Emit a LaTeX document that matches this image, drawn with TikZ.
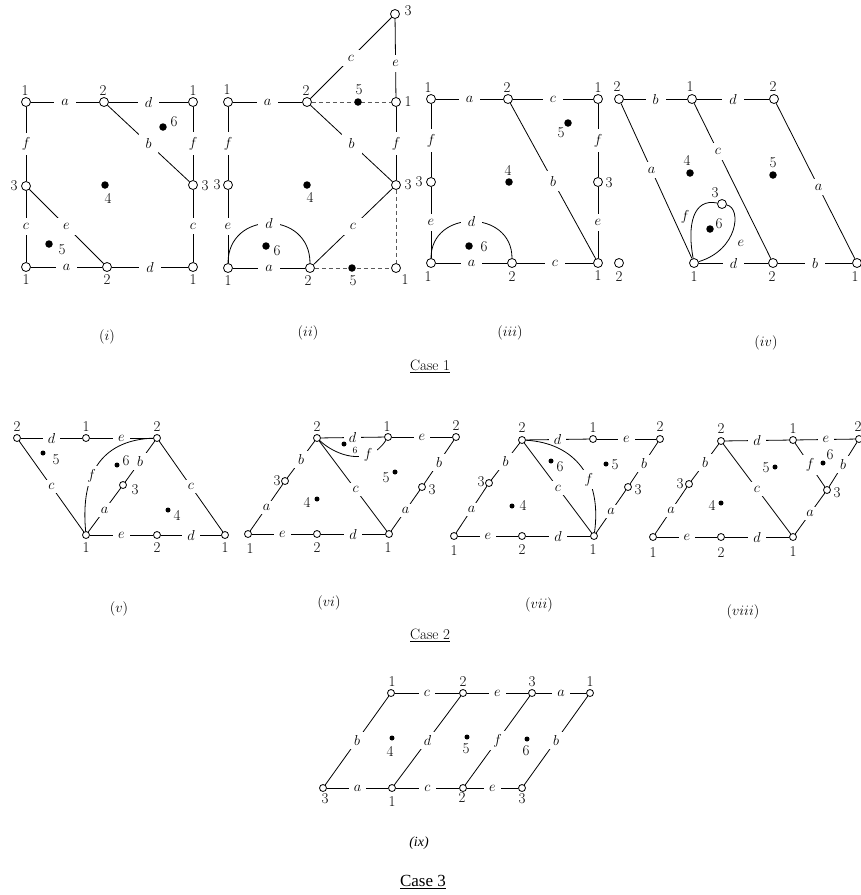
\documentclass[tikz,border=0pt]{standalone}
\usepackage{fontspec}
\newfontfamily\timesfont{Liberation Serif}
\begin{document}
\begin{tikzpicture}[x=1pt,y=-1pt,
  every node/.style={font=\fontsize{15}{17}\selectfont},
  ln/.style={line width=0.8pt},
  dashln/.style={line width=0.8pt,dash pattern=on 4pt off 3pt,draw=black!65},
  vb/.style={circle,draw,fill=white,line width=0.8pt,inner sep=0pt,minimum size=9pt},
  vs/.style={circle,draw,fill=white,line width=0.8pt,inner sep=0pt,minimum size=7pt},
  db/.style={circle,fill=black,inner sep=0pt,minimum size=7.5pt},
  ds/.style={circle,fill=black,inner sep=0pt,minimum size=5pt},
  el/.style={fill=white,inner xsep=7pt,inner ysep=5pt},
  els/.style={fill=white,inner xsep=5pt,inner ysep=3.5pt},
  nl/.style={inner sep=0pt},
  smalln/.style={inner sep=0pt,font=\fontsize{9.5}{10}\selectfont},
]
\fill[white] (0,0) rectangle (861,895);
\useasboundingbox (0,0) rectangle (861,895);

% ---------------- (i) ----------------
\node[vb] (i1) at (26,102) {};
\node[vb] (i2) at (104,102) {};
\node[vb] (i3) at (193,102) {};
\node[vb] (i4) at (26,186) {};
\node[vb] (i5) at (193,185) {};
\node[vb] (i6) at (26,267) {};
\node[vb] (i7) at (107,267) {};
\node[vb] (i8) at (193,267) {};
\draw[ln] (i1) -- node[el]{$a$} (i2);
\draw[ln] (i2) -- node[el]{$d$} (i3);
\draw[ln] (i1) -- node[el]{$f$} (i4);
\draw[ln] (i3) -- node[el]{$f$} (i5);
\draw[ln] (i4) -- node[el]{$c$} (i6);
\draw[ln] (i5) -- node[el]{$c$} (i8);
\draw[ln] (i6) -- node[el]{$a$} (i7);
\draw[ln] (i7) -- node[el]{$d$} (i8);
\draw[ln] (i2) -- node[el]{$b$} (i5);
\draw[ln] (i4) -- node[el]{$e$} (i7);
\node[nl] (i1n) at (25,91) {1};
\node[nl] (i2n) at (103,91) {2};
\node[nl] (i3n) at (193,91) {1};
\node[nl] (i4n) at (14,186) {3};
\node[nl] (i5n) at (205,186) {3};
\node[nl] (i6n) at (26,280) {1};
\node[nl] (i7n) at (107,280) {2};
\node[nl] (i8n) at (193,280) {1};
\node[db] (id6) at (163,127) {}; \node[nl] (id6n) at (174,122) {6};
\node[db] (id4) at (105,185) {}; \node[nl] (id4n) at (108,198) {4};
\node[db] (id5) at (49,244) {};  \node[nl] (id5n) at (62,250) {5};

% ---------------- (ii) ----------------
\node[vb] (ii1) at (228,102) {};
\node[vb] (ii2) at (307,102) {};
\node[vb] (ii3) at (396,102) {};
\node[vb] (ii4) at (395,14) {};
\node[vb] (ii5) at (228,185) {};
\node[vb] (ii6) at (396,185) {};
\node[vb] (ii7) at (228,268) {};
\node[vb] (ii8) at (310,268) {};
\node[vb] (ii9) at (396,268) {};
\draw[ln] (ii1) -- node[el]{$a$} (ii2);
\draw[dashln] (ii2) -- (ii3);
\draw[ln] (ii2) -- node[el]{$c$} (ii4);
\draw[ln] (ii4) -- node[el,pos=.57]{$e$} (ii3);
\draw[ln] (ii3) -- node[el]{$f$} (ii6);
\draw[ln] (ii2) -- node[el]{$b$} (ii6);
\draw[ln] (ii1) -- node[el]{$f$} (ii5);
\draw[ln] (ii5) -- node[el]{$e$} (ii7);
\draw[ln] (ii6) -- node[el]{$c$} (ii8);
\draw[dashln] (ii6) -- (ii9);
\draw[ln] (ii7) -- node[el]{$a$} (ii8);
\draw[dashln] (ii8) -- (ii9);
\draw[ln] (ii7) .. controls (228,210) and (310,210) .. node[el]{$d$} (ii8);
\node[nl] (ii1n) at (227,90) {1};
\node[nl] (ii2n) at (306,91) {2};
\node[nl] (ii3n) at (408,102) {1};
\node[nl] (ii4n) at (408,11) {3};
\node[nl] (ii5n) at (217,185) {3};
\node[nl] (ii6n) at (408,185) {3};
\node[nl] (ii7n) at (228,281) {1};
\node[nl] (ii8n) at (308,281) {2};
\node[nl] (ii9n) at (405,280) {1};
\node[db] (iid5a) at (358,102) {}; \node[nl] (iid5an) at (359,90) {5};
\node[db] (iid5b) at (352,268) {}; \node[nl] (iid5bn) at (353,281) {5};
\node[db] (iid4) at (307,185) {};  \node[nl] (iid4n) at (310,197) {4};
\node[db] (iid6) at (266,246) {};  \node[nl] (iid6n) at (277,251) {6};

% ---------------- (iii) ----------------
\node[vb] (iii1) at (431,99) {};
\node[vb] (iii2) at (508,99) {};
\node[vb] (iii3) at (598,99) {};
\node[vb] (iii4) at (431,182) {};
\node[vb] (iii5) at (598,182) {};
\node[vb] (iii6) at (431,263) {};
\node[vb] (iii7) at (512,263) {};
\node[vb] (iii8) at (598,263) {};
\draw[ln] (iii1) -- node[el]{$a$} (iii2);
\draw[ln] (iii2) -- node[el]{$c$} (iii3);
\draw[ln] (iii1) -- node[el]{$f$} (iii4);
\draw[ln] (iii3) -- node[el]{$f$} (iii5);
\draw[ln] (iii4) -- node[el]{$e$} (iii6);
\draw[ln] (iii5) -- node[el]{$e$} (iii8);
\draw[ln] (iii6) -- node[el]{$a$} (iii7);
\draw[ln] (iii7) -- node[el]{$c$} (iii8);
\draw[ln] (iii2) -- node[el]{$b$} (iii8);
\draw[ln] (iii6) .. controls (431,209) and (512,209) .. node[el]{$d$} (iii7);
\node[nl] (iii1n) at (428,88) {1};
\node[nl] (iii2n) at (507,88) {2};
\node[nl] (iii3n) at (598,88) {1};
\node[nl] (iii4n) at (419,182) {3};
\node[nl] (iii5n) at (609,183) {3};
\node[nl] (iii6n) at (428,277) {1};
\node[nl] (iii7n) at (512,277) {2};
\node[nl] (iii8n) at (598,276) {1};
\node[db] (iiid4) at (509,182) {}; \node[nl] (iiid4n) at (508,170) {4};
\node[db] (iiid5) at (568,123) {}; \node[nl] (iiid5n) at (561,133) {5};
\node[db] (iiid6) at (469,246) {}; \node[nl] (iiid6n) at (484,247) {6};

% ---------------- (iv) ----------------
\node[vb] (iv1) at (619,99) {};
\node[vb] (iv2) at (692,99) {};
\node[vb] (iv3) at (774,99) {};
\node[vb] (iv4) at (619,263) {};
\node[vb] (iv5) at (694,263) {};
\node[vb] (iv6) at (773,263) {};
\node[vb] (iv7) at (857,263) {};
\node[vb] (iv8) at (722,204) {};
\draw[ln] (iv1) -- node[el]{$b$} (iv2);
\draw[ln] (iv2) -- node[el]{$d$} (iv3);
\draw[ln] (iv1) -- node[el,pos=.43]{$a$} (iv5);
\draw[ln] (iv2) -- node[el,pos=.31]{$c$} (iv6);
\draw[ln] (iv3) -- node[el,pos=.54]{$a$} (iv7);
\draw[ln] (iv5) -- node[el]{$d$} (iv6);
\draw[ln] (iv6) -- node[el]{$b$} (iv7);
\draw[ln] (iv5) .. controls (687,225) and (693,198) .. (iv8);
\draw[ln] (iv8) .. controls (742,208) and (738,250) .. (iv5);
\node[nl] (ivf) at (685,217) {$f$};
\node[nl] (ive) at (741,243) {$e$};
\node[nl] (iv1n) at (617,87) {2};
\node[nl] (iv2n) at (690,87) {1};
\node[nl] (iv3n) at (773,87) {2};
\node[nl] (iv4n) at (619,277) {2};
\node[nl] (iv5n) at (694,277) {1};
\node[nl] (iv6n) at (772,277) {2};
\node[nl] (iv7n) at (855,277) {1};
\node[nl] (iv8n) at (715,193) {3};
\node[db] (ivd4) at (690,173) {}; \node[nl] (ivd4n) at (687,160) {4};
\node[db] (ivd5) at (773,175) {}; \node[nl] (ivd5n) at (773,163) {5};
\node[db] (ivd6) at (710,229) {}; \node[nl] (ivd6n) at (719,224) {6};

\node (capi) at (107,337) {$(i)$};
\node (capii) at (308,333) {$(ii)$};
\node (capiii) at (510,333) {$(iii)$};
\node (capiv) at (766,343) {$(iv)$};
\node (case1) at (430,366) {\underline{Case 1}};

% ---------------- (v) ----------------
\node[vs] (v1) at (17,438) {};
\node[vs] (v2) at (86,438) {};
\node[vs] (v3) at (157,438) {};
\node[vs] (v4) at (86,535) {};
\node[vs] (v5) at (157,535) {};
\node[vs] (v6) at (225,535) {};
\node[vs] (v7) at (123,485) {};
\draw[ln] (v1) -- node[els]{$d$} (v2);
\draw[ln] (v2) -- node[els]{$e$} (v3);
\draw[ln] (v1) -- node[els]{$c$} (v4);
\draw[ln] (v3) -- node[els]{$c$} (v6);
\draw[ln] (v4) -- node[els]{$e$} (v5);
\draw[ln] (v5) -- node[els]{$d$} (v6);
\draw[ln] (v4) -- node[els]{$a$} (v7);
\draw[ln] (v7) -- node[els]{$b$} (v3);
\draw[ln] (v4) .. controls (80,470) and (105,440) .. node[els,pos=.37]{$f$} (v3);
\node[nl] (v1n) at (17,427) {2};
\node[nl] (v2n) at (86,427) {1};
\node[nl] (v3n) at (157,427) {2};
\node[nl] (v4n) at (86,548) {1};
\node[nl] (v5n) at (157,548) {2};
\node[nl] (v6n) at (225,548) {1};
\node[nl] (v7n) at (135,490) {3};
\node[ds] (vd5) at (43,453) {};  \node[nl] (vd5n) at (56,460) {5};
\node[ds] (vd6) at (117,465) {}; \node[nl] (vd6n) at (126,461) {6};
\node[ds] (vd4) at (168,510) {}; \node[nl] (vd4n) at (177,515) {4};

% ---------------- (vi) ----------------
\node[vs] (vi1) at (317,438) {};
\node[vs] (vi2) at (388,437) {};
\node[vs] (vi3) at (456,437) {};
\node[vs] (vi4) at (285,481) {};
\node[vs] (vi5) at (248,534) {};
\node[vs] (vi6) at (317,534) {};
\node[vs] (vi7) at (389,534) {};
\node[vs] (vi8) at (422,487) {};
\draw[ln] (vi1) -- node[els]{$d$} (vi2);
\draw[ln] (vi2) -- node[els]{$e$} (vi3);
\draw[ln] (vi5) -- node[els]{$e$} (vi6);
\draw[ln] (vi6) -- node[els]{$d$} (vi7);
\draw[ln] (vi5) -- node[els]{$a$} (vi4);
\draw[ln] (vi4) -- node[els]{$b$} (vi1);
\draw[ln] (vi7) -- node[els]{$a$} (vi8);
\draw[ln] (vi8) -- node[els]{$b$} (vi3);
\draw[ln] (vi1) -- node[els,pos=.54]{$c$} (vi7);
\draw[ln] (vi1) .. controls (335,455) and (368,468) .. node[els,pos=.72]{$f$} (vi2);
\node[nl] (vi1n) at (317,427) {2};
\node[nl] (vi2n) at (387,427) {1};
\node[nl] (vi3n) at (456,426) {2};
\node[nl] (vi4n) at (277,481) {3};
\node[nl] (vi5n) at (250,549) {1};
\node[nl] (vi6n) at (317,548) {2};
\node[nl] (vi7n) at (388,548) {1};
\node[nl] (vi8n) at (432,490) {3};
\node[ds] (vid6) at (344,444) {}; \node[smalln] (vid6n) at (355,450) {6};
\node[ds] (vid5) at (395,472) {}; \node[nl] (vid5n) at (386,478) {5};
\node[ds] (vid4) at (317,499) {}; \node[nl] (vid4n) at (307,502) {4};

% ---------------- (vii) ----------------
\node[vs] (vii1) at (522,440) {};
\node[vs] (vii2) at (593,439) {};
\node[vs] (vii3) at (660,439) {};
\node[vs] (vii4) at (489,483) {};
\node[vs] (vii5) at (454,536) {};
\node[vs] (vii6) at (522,536) {};
\node[vs] (vii7) at (594,536) {};
\node[vs] (vii8) at (628,487) {};
\draw[ln] (vii1) -- node[els]{$d$} (vii2);
\draw[ln] (vii2) -- node[els]{$e$} (vii3);
\draw[ln] (vii5) -- node[els]{$e$} (vii6);
\draw[ln] (vii6) -- node[els]{$d$} (vii7);
\draw[ln] (vii5) -- node[els]{$a$} (vii4);
\draw[ln] (vii4) -- node[els]{$b$} (vii1);
\draw[ln] (vii7) -- node[els]{$a$} (vii8);
\draw[ln] (vii8) -- node[els]{$b$} (vii3);
\draw[ln] (vii1) -- node[els]{$c$} (vii7);
\draw[ln] (vii1) .. controls (575,443) and (602,478) .. node[els,pos=.62]{$f$} (vii7);
\node[nl] (vii1n) at (522,428) {2};
\node[nl] (vii2n) at (593,428) {1};
\node[nl] (vii3n) at (660,427) {2};
\node[nl] (vii4n) at (481,482) {3};
\node[nl] (vii5n) at (454,551) {1};
\node[nl] (vii6n) at (522,550) {2};
\node[nl] (vii7n) at (593,550) {1};
\node[nl] (vii8n) at (638,490) {3};
\node[ds] (viid6) at (551,461) {}; \node[nl] (viid6n) at (560,467) {6};
\node[ds] (viid5) at (606,464) {}; \node[nl] (viid5n) at (615,465) {5};
\node[ds] (viid4) at (512,506) {}; \node[nl] (viid4n) at (523,505) {4};

% ---------------- (viii) ----------------
\node[vs] (viii1) at (721,441) {};
\node[vs] (viii2) at (793,440) {};
\node[vs] (viii3) at (859,439) {};
\node[vs] (viii4) at (689,484) {};
\node[vs] (viii5) at (653,537) {};
\node[vs] (viii6) at (721,537) {};
\node[vs] (viii7) at (793,537) {};
\node[vs] (viii8) at (827,490) {};
\draw[ln] (viii1) -- node[els]{$d$} (viii2);
\draw[ln] (viii2) -- node[els]{$e$} (viii3);
\draw[ln] (viii5) -- node[els]{$e$} (viii6);
\draw[ln] (viii6) -- node[els]{$d$} (viii7);
\draw[ln] (viii5) -- node[els]{$a$} (viii4);
\draw[ln] (viii4) -- node[els]{$b$} (viii1);
\draw[ln] (viii7) -- node[els]{$a$} (viii8);
\draw[ln] (viii8) -- node[els]{$b$} (viii3);
\draw[ln] (viii1) -- node[els]{$c$} (viii7);
\draw[ln] (viii2) -- node[els]{$f$} (viii8);
\node[nl] (viii1n) at (721,429) {2};
\node[nl] (viii2n) at (793,429) {1};
\node[nl] (viii3n) at (858,427) {2};
\node[nl] (viii4n) at (680,484) {3};
\node[nl] (viii5n) at (653,553) {1};
\node[nl] (viii6n) at (721,553) {2};
\node[nl] (viii7n) at (793,552) {1};
\node[nl] (viii8n) at (837,493) {3};
\node[ds] (viiid5) at (775,467) {}; \node[nl] (viiid5n) at (766,468) {5};
\node[ds] (viiid6) at (823,463) {}; \node[nl] (viiid6n) at (830,455) {6};
\node[ds] (viiid4) at (721,503) {}; \node[nl] (viiid4n) at (712,505) {4};

\node (capv) at (119,609) {$(v)$};
\node (capvi) at (329,603) {$(vi)$};
\node (capvii) at (539,605) {$(vii)$};
\node (capviii) at (743,612) {$(viii)$};
\node (case2) at (430,635) {\underline{Case 2}};

% ---------------- (ix) ----------------
\node[vs] (ix1) at (391,693) {};
\node[vs] (ix2) at (463,693) {};
\node[vs] (ix3) at (532,693) {};
\node[vs] (ix4) at (590,693) {};
\node[vs] (ix5) at (323,788) {};
\node[vs] (ix6) at (392,788) {};
\node[vs] (ix7) at (463,788) {};
\node[vs] (ix8) at (522,788) {};
\draw[ln] (ix1) -- node[els]{$c$} (ix2);
\draw[ln] (ix2) -- node[els]{$e$} (ix3);
\draw[ln] (ix3) -- node[els]{$a$} (ix4);
\draw[ln] (ix5) -- node[els]{$a$} (ix6);
\draw[ln] (ix6) -- node[els]{$c$} (ix7);
\draw[ln] (ix7) -- node[els]{$e$} (ix8);
\draw[ln] (ix5) -- node[els]{$b$} (ix1);
\draw[ln] (ix6) -- node[els]{$d$} (ix2);
\draw[ln] (ix7) -- node[els]{$f$} (ix3);
\draw[ln] (ix8) -- node[els]{$b$} (ix4);
\node[nl] (ix1n) at (392,682) {1};
\node[nl] (ix2n) at (463,682) {2};
\node[nl] (ix3n) at (532,682) {3};
\node[nl] (ix4n) at (590,682) {1};
\node[nl] (ix5n) at (325,799) {3};
\node[nl] (ix6n) at (392,802) {1};
\node[nl] (ix7n) at (462,798) {2};
\node[nl] (ix8n) at (522,799) {3};
\node[ds] (ixd4) at (392,738) {}; \node[nl] (ixd4n) at (390,751) {4};
\node[ds] (ixd5) at (467,737) {}; \node[nl] (ixd5n) at (466,749) {5};
\node[ds] (ixd6) at (527,739) {}; \node[nl] (ixd6n) at (526,751) {6};

\node[font=\timesfont\itshape\fontsize{14}{16}\selectfont] (capix) at (419,843) {(ix)};
\node[font=\timesfont\fontsize{17}{19}\selectfont] (case3) at (423,882) {\underline{Case 3}};
\end{tikzpicture}
\end{document}
